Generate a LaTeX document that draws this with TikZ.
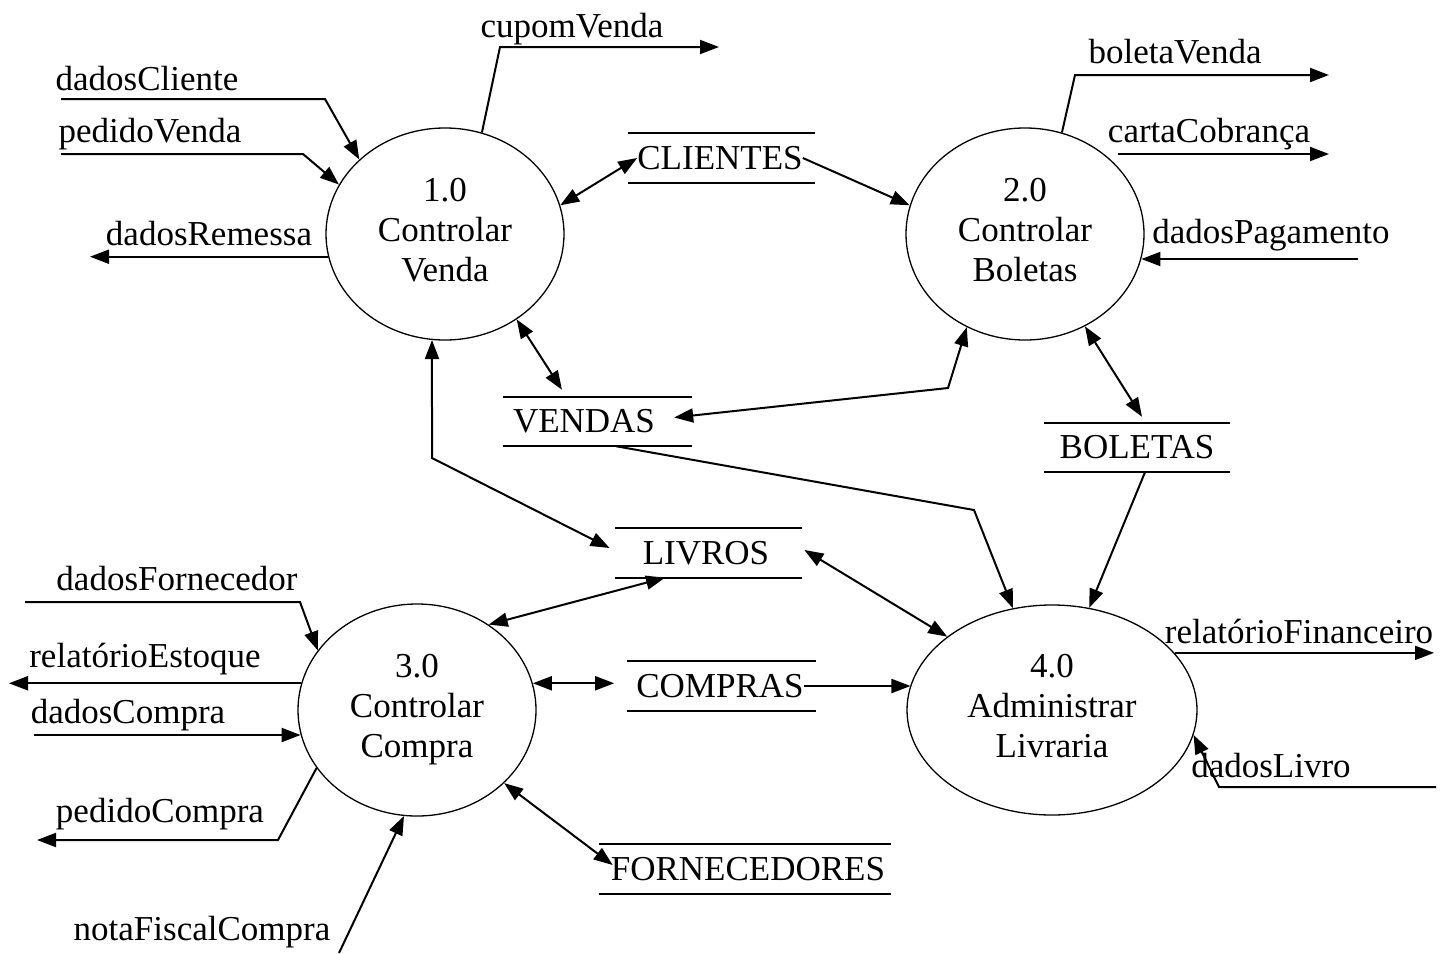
\documentclass[tikz,border=0pt]{standalone}
\usepackage{fontspec}
\setmainfont{Liberation Serif}
\usetikzlibrary{arrows.meta,shapes.geometric,calc}
\begin{document}
\begin{tikzpicture}[x=1pt,y=-1pt,
  every node/.style={font=\fontsize{35}{40}\selectfont},
  proc/.style={ellipse, draw, line width=1.3pt, minimum width=238pt, minimum height=212pt,
    align=center, text height=104pt, text depth=10pt, inner sep=0pt},
  lbl/.style={anchor=base, inner sep=0pt},
  flow/.style={line width=2pt, -{Triangle[length=19pt,width=14pt]}},
  biflow/.style={line width=2pt, {Triangle[length=19pt,width=14pt]}-{Triangle[length=19pt,width=14pt]}},
  store/.style 2 args={minimum height=49pt, inner xsep=0pt, inner ysep=0pt,
    append after command={([xshift=-#1]\tikzlastnode.north west) edge[line width=2pt] ([xshift=#2]\tikzlastnode.north east)
      ([xshift=-#1]\tikzlastnode.south west) edge[line width=2pt] ([xshift=#2]\tikzlastnode.south east)}}
]
\useasboundingbox (0,0) rectangle (1445,953);

% processes
\node[proc] (p1) at (445,234) {1.0\\Controlar\\Venda};
\node[proc] (p2) at (1025,234) {2.0\\Controlar\\Boletas};
\node[proc] (p3) at (417,710) {3.0\\Controlar\\Compra};
\node[proc, minimum width=290pt, minimum height=210pt] (p4) at (1052,710) {4.0\\Administrar\\Livraria};

% data stores
\node[store={9pt}{12pt}] (clientes) at (720,158) {CLIENTES};
\node[store={10pt}{37pt}] (vendas) at (584,421.5) {VENDAS};
\node[store={15pt}{15pt}] (boletas) at (1137,447.5) {BOLETAS};
\node[store={28pt}{33pt}] (livros) at (706,553) {LIVROS};
\node[store={9pt}{12pt}] (compras) at (720,686) {COMPRAS};
\node[store={12pt}{6pt}] (fornec) at (748,869) {FORNECEDORES};

% labels
\node[lbl] (lcupom) at (572,37) {cupomVenda};
\node[lbl] (lcli) at (147,90) {dadosCliente};
\node[lbl] (lped) at (150,142) {pedidoVenda};
\node[lbl] (lrem) at (209,245) {dadosRemessa};
\node[lbl] (lbol) at (1175,63) {boletaVenda};
\node[lbl] (lcarta) at (1209,142) {cartaCobrança};
\node[lbl] (lpag) at (1271,243) {dadosPagamento};
\node[lbl] (lforn) at (177,590) {dadosFornecedor};
\node[lbl] (lest) at (145,667) {relatórioEstoque};
\node[lbl] (lcomp) at (128,723) {dadosCompra};
\node[lbl] (lpc) at (160,822) {pedidoCompra};
\node[lbl] (lnota) at (202,940) {notaFiscalCompra};
\node[lbl] (lfin) at (1299,643) {relatórioFinanceiro};
\node[lbl] (llivro) at (1271,777) {dadosLivro};

% free ends and bends
\coordinate (cupomBend) at (500,47);
\coordinate (cupomEnd) at (719,47);
\coordinate (cliStart) at (61,99);
\coordinate (cliBend) at (325,99);
\coordinate (pedStart) at (61,154);
\coordinate (pedBend) at (303,154);
\coordinate (remEnd) at (90,258);
\coordinate (bolBend) at (1075,75);
\coordinate (bolEnd) at (1329,75);
\coordinate (cartaStart) at (1118,154);
\coordinate (cartaEnd) at (1329,154);
\coordinate (pagStart) at (1358,259);
\coordinate (vendBend) at (948,388);
\coordinate (livBend) at (432,458);
\coordinate (vpBend) at (974,510);
\coordinate (fornStart) at (25,602);
\coordinate (fornBend) at (300,602);
\coordinate (estEnd) at (9,683);
\coordinate (compStart) at (34,735);
\coordinate (pcBend) at (278,840);
\coordinate (pcEnd) at (37,840);
\coordinate (notaStart) at (339,953);
\coordinate (finEnd) at (1434,655);
\coordinate (livroStart) at (1436,787);
\coordinate (livroBend) at (1219,787);
\coordinate (cmpL) at ([xshift=-22pt]compras.west);

% flows of process 1
\draw[flow] (p1.70) -- (cupomBend) -- (cupomEnd);
\draw[flow] (cliStart) -- (cliBend) -- (p1.139);
\draw[flow] (pedStart) -- (pedBend) -- (p1.155);
\draw[flow] (p1.191) -- (p1.191 -| remEnd);
\draw[biflow] (p1.14) -- (clientes.west);
\draw[biflow] (p1.310) -- ($(vendas.north)+(-22,-7)$);
\draw[biflow] (p1.263) -- (livBend) -- ($(livros.west)+(-33,-5)$);

% flows of process 2
\draw[flow] (clientes.east) -- (p2.166);
\draw[flow] (p2.70) -- (bolBend) -- (bolEnd);
\draw[flow] (cartaStart) -- (cartaEnd);
\draw[flow] (pagStart) -- (p2.348 |- pagStart);
\draw[biflow] ($(vendas.east)+(19,-4)$) -- (vendBend) -- (p2.238);
\draw[biflow] (p2.303) -- ($(boletas.north)+(5,-6)$);

% flows of process 4
\draw[flow] ($(vendas.south)+(32,0)$) -- (vpBend) -- (p4.111);
\draw[flow] ($(boletas.south)+(8,0)$) -- (p4.70);
\draw[biflow] ($(livros.east)+(35,-3)$) -- (p4.145);
\draw[flow] (compras.east) -- (p4.170 |- compras.east);
\draw[flow] (p4.25) -- (p4.25 -| finEnd);
\draw[flow] (livroStart) -- (livroBend) -- (p4.350);

% flows of process 3
\draw[biflow] ($(livros.south)+(-41,0)$) -- (p3.50);
\draw[biflow] (p3.13) -- (cmpL |- p3.13);
\draw[biflow] (p3.320) -- ($(fornec.west)+(2,-4)$);
\draw[flow] (fornStart) -- (fornBend) -- (p3.149);
\draw[flow] (p3.167) -- (p3.167 -| estEnd);
\draw[flow] (compStart) -- (p3.192 |- compStart);
\draw[flow] (p3.210) -- (pcBend) -- (pcEnd);
\draw[flow] (notaStart) -- (p3.263);
\end{tikzpicture}
\end{document}
